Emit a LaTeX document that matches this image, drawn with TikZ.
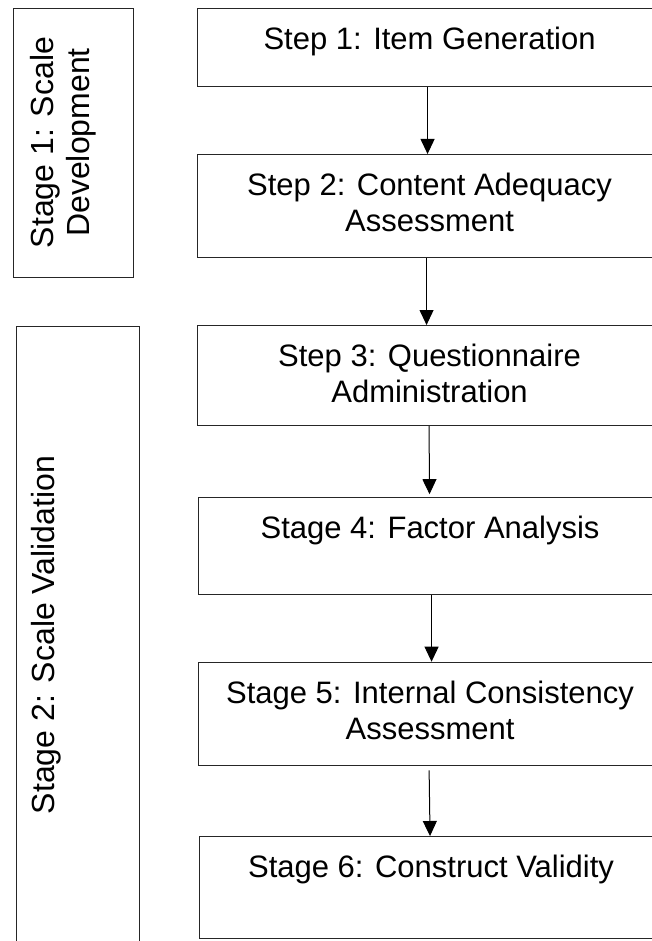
\documentclass[tikz,border=0pt]{standalone}
\usepackage{fontspec}
\setmainfont{Liberation Sans}
\usetikzlibrary{arrows.meta}
\begin{document}
\begin{tikzpicture}[x=1pt,y=-1pt,
  frame/.style={draw=black!85, line width=1.1pt, rectangle, inner sep=0pt, anchor=north west},
  stepbox/.style={frame, minimum width=464pt},
  txt/.style={inner sep=0pt, align=center, font=\fontsize{31}{36}\selectfont},
  sidetxt/.style={txt, rotate=90, anchor=north, font=\fontsize{32}{36.5}\selectfont},
  flow/.style={draw=black, line width=1pt, -{Triangle[length=15pt,width=14pt]}}]
\useasboundingbox (0,0) rectangle (652,941);

% stage frames on the left (the lower one runs off the page)
\node[frame, minimum width=120.6pt, minimum height=268.7pt] (s1) at (12.7,8) {};
\node[frame, minimum width=123.2pt, minimum height=640pt] (s2) at (15.5,325.7) {};
\node[sidetxt] (s1t) at (30,142.5) {Stage 1: Scale\\Development};
\node[sidetxt] (s2t) at (31.5,635) {Stage 2: Scale Validation};

% step boxes (right edges lie beyond the page)
\node[stepbox, minimum height=78pt]  (b1) at (197,8.3) {};
\node[stepbox, minimum height=103pt] (b2) at (197,154) {};
\node[stepbox, minimum height=100pt] (b3) at (197,325) {};
\node[stepbox, minimum height=97.5pt] (b4) at (197.5,496.7) {};
\node[stepbox, minimum height=103.5pt] (b5) at (197.5,661.7) {};
\node[stepbox, minimum height=102pt] (b6) at (198.5,836) {};

\node[txt, anchor=north] (t1) at ([yshift=-19pt]b1.north) {Step 1: Item Generation};
\node[txt, anchor=north] (t2) at ([yshift=-19pt]b2.north) {Step 2: Content Adequacy\\Assessment};
\node[txt, anchor=north] (t3) at ([yshift=-19pt]b3.north) {Step 3: Questionnaire\\Administration};
\node[txt, anchor=north] (t4) at ([yshift=-19pt]b4.north) {Stage 4: Factor Analysis};
\node[txt, anchor=north] (t5) at ([yshift=-19pt]b5.north) {Stage 5: Internal Consistency\\Assessment};
\node[txt, anchor=north] (t6) at ([yshift=-19pt]b6.north) {Stage 6: Construct Validity};

% connectors
\draw[flow] ([xshift=-2pt]b1.south) -- ([xshift=-2pt]b2.north);
\draw[flow] ([xshift=-3pt]b2.south) -- ([xshift=-3pt]b3.north);
\draw[flow, shorten >=2.5pt] ([xshift=-0.5pt]b3.south) -- ([xshift=-0.5pt]b4.north);
\draw[flow] ([xshift=1.5pt]b4.south) -- ([xshift=1.5pt]b5.north);
\draw[flow, shorten <=4pt] ([xshift=-1pt]b5.south) -- ([xshift=-1pt]b6.north);
\end{tikzpicture}
\end{document}
